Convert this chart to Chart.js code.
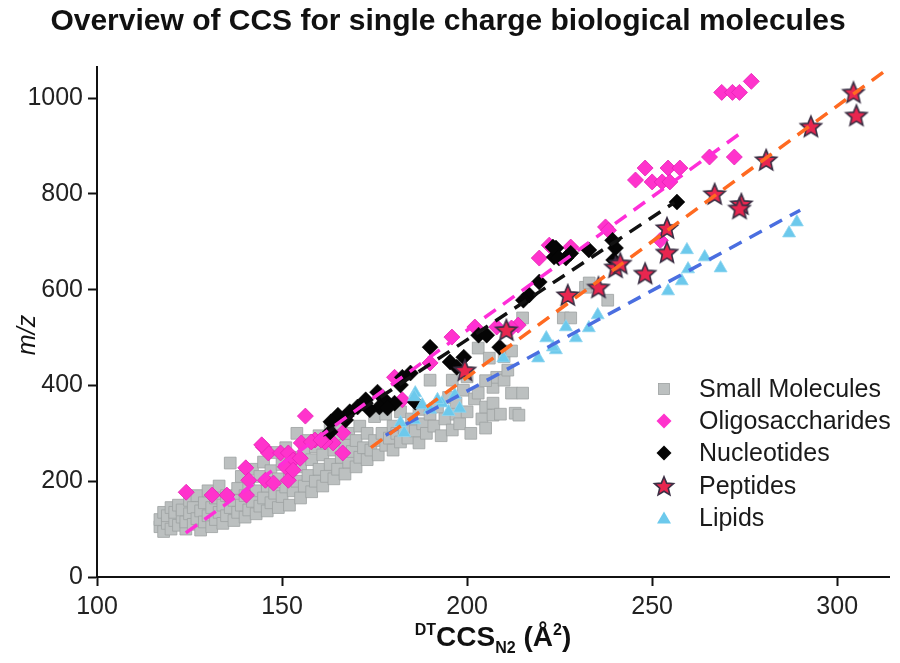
<!DOCTYPE html>
<html><head><meta charset="utf-8">
<script src="https://cdn.jsdelivr.net/npm/chart.js@4.4.0/dist/chart.umd.min.js"></script>
<style>html,body{margin:0;padding:0;background:#fff}#wrap{width:900px;height:663px;position:relative}</style>
</head><body><div id="wrap"><canvas id="c" width="900" height="663"></canvas></div>
<script>
// ---------- data (x = DTCCS_N2 in Å², y = m/z) ----------
const seriesNames = ['Small Molecules','Oligosaccharides','Nucleotides','Peptides','Lipids'];
const xTicks = [100,150,200,250,300];
const yTicks = [0,200,400,600,800,1000];

const smallMolecules = [[117,105],[117,120],[118,135],[118,95],[119,112],[119,128],[120,145],[120,100],[121,118],[121,135],[122,108],[122,150],[123,125],[123,140],[124,100],[124,115],[125,132],[125,160],[126,110],[126,145],[127,122],[127,170],[128,98],[128,138],[129,115],[129,155],[130,128],[130,180],[131,105],[131,145],[132,120],[132,165],[133,135],[133,190],[134,112],[134,150],[135,128],[135,170],[136,145],[136,238],[137,118],[137,160],[138,135],[138,185],[139,150],[139,210],[140,125],[140,170],[141,140],[141,195],[142,158],[142,225],[143,132],[143,180],[144,148],[144,210],[145,165],[145,240],[146,138],[146,190],[147,155],[147,222],[148,175],[148,260],[149,145],[149,205],[150,168],[150,235],[151,188],[151,270],[152,150],[152,215],[153,180],[153,250],[154,200],[154,300],[155,165],[155,230],[156,190],[156,265],[157,212],[157,285],[158,178],[158,245],[159,200],[159,272],[160,225],[160,295],[161,190],[161,255],[162,210],[162,280],[163,235],[163,310],[164,205],[164,265],[165,225],[165,295],[166,250],[166,320],[167,215],[167,275],[168,240],[168,300],[169,262],[170,230],[170,285],[171,250],[171,315],[172,270],[173,245],[173,300],[174,265],[175,285],[175,335],[176,255],[177,300],[178,275],[178,340],[179,290],[180,265],[180,315],[181,300],[182,282],[182,345],[183,310],[184,290],[185,330],[186,305],[187,280],[187,350],[188,320],[189,300],[190,340],[190,411],[191,315],[192,355],[193,295],[194,330],[195,375],[196,307],[196,411],[197,363],[197,340],[198,320],[199,390],[200,345],[200,418],[201,300],[202,372],[203,384],[203,478],[204,330],[205,311],[205,355],[206,457],[207,338],[207,396],[207,363],[208,417],[209,340],[210,411],[211,432],[212,384],[213,342],[214,338],[215,384],[198,440],[205,410],[210,460],[212,472],[215,541],[226,541],[228,541],[232,605],[233,614],[238,578]];

const oligosaccharides = [[276.8,1035],[268.8,1012],[271.7,1012],[273.6,1012],[265.5,877],[272.2,877],[248.1,854],[254.3,854],[257.5,854],[245.5,829],[250,825],[252.7,825],[254.8,825],[237.4,731],[238.2,724],[252.2,703],[228,689],[222.2,693],[219.5,666],[195.9,501],[202.1,522],[208,522],[213.8,526],[212,520],[182.5,370],[190,447],[180.4,417],[156.3,336],[167,334],[166.4,301],[163.8,280],[155.2,280],[158.9,286],[161.6,282],[166.4,259],[145,271],[146.3,259],[149.6,259],[151.7,259],[153,244],[150.9,230],[144.5,276],[157.9,282],[160.5,286],[154.9,248],[140.2,228],[141,202],[145.5,202],[147.7,196],[151.7,202],[140.4,171],[135.1,171],[131.1,171],[124.1,177],[153,223]];

const nucleotides = [[256.7,783],[232.9,683],[240.1,687],[239.3,703],[239.6,662],[224,687],[223.5,668],[226.7,666],[223.2,689],[224.8,666],[228,676],[219.5,616],[216.8,589],[215.2,578],[203.1,505],[205.3,505],[190,480],[195.4,449],[199.1,459],[197.2,438],[184.7,426],[182.5,417],[186,365],[208.8,480],[182,401],[175.8,386],[172.6,370],[170.4,355],[168.3,345],[180.4,363],[177.7,370],[176.3,355],[165.1,338],[163.2,324],[163,303],[167.2,328],[173.7,349],[178.5,353]];

const peptides = [[304.4,1012],[305.2,964],[292.9,941],[280.8,871],[266.9,800],[274.1,779],[273.6,770],[254,729],[254,678],[240.1,647],[241.4,655],[248.1,634],[235.5,605],[227.2,589],[210.6,516],[199.4,432]];

const lipids = [[289.1,741],[287,718],[259.4,683],[264.2,668],[268.5,645],[259.7,643],[258,618],[254.3,597],[226.7,522],[229.4,499],[232.9,520],[235.3,547],[224,474],[221.4,499],[223.2,480],[219.2,457],[209.8,457],[196.7,380],[193.2,363],[186,384],[187.9,359],[185.7,328],[183,301],[182,322],[185.7,376],[190,350],[195,345],[192,370],[198,352]];

// dashed linear fits (end points)
const oligoFitX = [124, 275], oligoFitY = [92, 933];
const nucFitX = [161, 256], nucFitY = [296, 782];
const pepFitX = [174, 314], pepFitY = [270, 1063];
const lipFitX = [178, 290], lipFitY = [296, 766];

// ---------- rendering ----------
const FONT = '"Liberation Sans", Arial, Helvetica, sans-serif';
const toPts = a => a.map(p => ({x: p[0], y: p[1]}));
const fit = (xs, ys) => xs.map((x, i) => ({x, y: ys[i]}));

function makeStar(r, fill, stroke) {
  const s = Math.ceil(r * 2 + 4);
  const c = document.createElement('canvas'); c.width = s; c.height = s;
  const g = c.getContext('2d'); const cx = s / 2, cy = s / 2 + r * 0.08;
  g.beginPath();
  for (let i = 0; i < 10; i++) {
    const a = -Math.PI / 2 + i * Math.PI / 5; const rr = i % 2 ? r * 0.45 : r;
    g.lineTo(cx + rr * Math.cos(a), cy + rr * Math.sin(a));
  }
  g.closePath(); g.fillStyle = fill; g.fill();
  g.lineWidth = 1.6; g.lineJoin = 'miter'; g.strokeStyle = stroke; g.stroke();
  return c;
}
const starImg = makeStar(11, '#e8264f', '#3b2f44');
const starLegend = makeStar(10, '#e8264f', '#3b2f44');

const C = {
  gray: '#bcc0c0', grayB: '#9da1a1', pink: '#ff33cc', pinkB: '#e61fb5',
  black: '#050505', lip: '#6cc9ec', lipB: '#8fd6f0',
  pinkLine: '#ff2ed8', blackLine: '#111111', orangeLine: '#ff6a21', blueLine: '#4a6ee0'
};

const lineDs = (label, data, color) => ({
  type: 'line', label, data, borderColor: color, borderWidth: 3.5, borderDash: [14, 9],
  pointRadius: 0, fill: false, order: 0, showLine: true
});

const datasets = [
  {label: seriesNames[0], data: toPts(smallMolecules), pointStyle: 'rect', pointRadius: 8.3,
   backgroundColor: C.gray, borderColor: C.grayB, borderWidth: 0.8, order: 6},
  {label: seriesNames[1], data: toPts(oligosaccharides), pointStyle: 'rectRot', pointRadius: 8,
   backgroundColor: C.pink, borderColor: C.pinkB, borderWidth: 0.8, order: 5},
  {label: seriesNames[2], data: toPts(nucleotides), pointStyle: 'rectRot', pointRadius: 8,
   backgroundColor: C.black, borderColor: C.black, borderWidth: 0.5, order: 4},
  {label: seriesNames[4], data: toPts(lipids), pointStyle: 'triangle', pointRadius: 7.5,
   backgroundColor: C.lip, borderColor: C.lipB, borderWidth: 0.8, order: 3},
  {label: seriesNames[3], data: toPts(peptides), pointStyle: starImg, pointRadius: 10,
   backgroundColor: '#e8264f', borderColor: '#3b2f44', order: 2},
  lineDs('fit oligo', fit(oligoFitX, oligoFitY), C.pinkLine),
  lineDs('fit nuc', fit(nucFitX, nucFitY), C.blackLine),
  lineDs('fit pep', fit(pepFitX, pepFitY), C.orangeLine),
  lineDs('fit lip', fit(lipFitX, lipFitY), C.blueLine)
];

function drawMarker(ctx, kind, x, y) {
  ctx.save();
  if (kind === 0) { ctx.fillStyle = C.gray; ctx.strokeStyle = C.grayB; ctx.lineWidth = 0.8;
    ctx.fillRect(x - 5.5, y - 5.5, 11, 11); ctx.strokeRect(x - 5.5, y - 5.5, 11, 11); }
  else if (kind === 1 || kind === 2) { ctx.fillStyle = kind === 1 ? C.pink : C.black;
    ctx.beginPath(); ctx.moveTo(x, y - 7.5); ctx.lineTo(x + 7.5, y); ctx.lineTo(x, y + 7.5); ctx.lineTo(x - 7.5, y); ctx.closePath(); ctx.fill(); }
  else if (kind === 3) { ctx.drawImage(starLegend, x - starLegend.width / 2, y - starLegend.height / 2); }
  else { ctx.fillStyle = C.lip; ctx.beginPath(); ctx.moveTo(x, y - 6.5); ctx.lineTo(x + 7, y + 5.5); ctx.lineTo(x - 7, y + 5.5); ctx.closePath(); ctx.fill(); }
  ctx.restore();
}

const decor = {
  id: 'decor',
  afterDraw(chart) {
    const ctx = chart.ctx; const a = chart.chartArea;
    ctx.save();
    // title
    ctx.fillStyle = '#111'; ctx.textAlign = 'center'; ctx.textBaseline = 'middle';
    ctx.font = 'bold 30px ' + FONT;
    ctx.fillText('Overview of CCS for single charge biological molecules', 448, 22);
    // y title
    ctx.save(); ctx.translate(28, 335); ctx.rotate(-Math.PI / 2);
    ctx.font = 'italic 25px ' + FONT; ctx.fillText('m/z', 0, 0); ctx.restore();
    // x title with super/subscripts
    const parts = [
      {t: 'DT', f: 'bold 16px ' + FONT, dy: -11},
      {t: 'CCS', f: 'bold 28px ' + FONT, dy: 0},
      {t: 'N2', f: 'bold 16px ' + FONT, dy: 7},
      {t: ' (Å', f: 'bold 28px ' + FONT, dy: 0},
      {t: '2', f: 'bold 16px ' + FONT, dy: -11},
      {t: ')', f: 'bold 28px ' + FONT, dy: 0}
    ];
    let w = 0; parts.forEach(p => { ctx.font = p.f; p.w = ctx.measureText(p.t).width; w += p.w; });
    let x = (a.left + a.right) / 2 - w / 2; const base = 646;
    ctx.textAlign = 'left'; ctx.textBaseline = 'alphabetic';
    parts.forEach(p => { ctx.font = p.f; ctx.fillText(p.t, x, base + p.dy); x += p.w; });
    // legend
    const rows = [389, 421, 453, 486, 518];
    ctx.font = '25px ' + FONT; ctx.textBaseline = 'middle'; ctx.fillStyle = '#1a1a1a';
    seriesNames.forEach((n, i) => { drawMarker(ctx, i, 664, rows[i]); ctx.fillText(n, 699, rows[i] + 1); });
    ctx.restore();
  }
};

const axisCommon = {
  type: 'linear',
  grid: {display: true, drawOnChartArea: false, drawTicks: true, tickLength: 9, color: '#111', tickWidth: 2},
  border: {display: true, color: '#111', width: 2},
};

new Chart(document.getElementById('c'), {
  type: 'scatter',
  data: {datasets},
  options: {
    responsive: false, animation: false, events: [],
    layout: {padding: {top: 67, right: 5, left: 0, bottom: 0}},
    plugins: {legend: {display: false}, tooltip: {enabled: false}, title: {display: false}},
    scales: {
      x: Object.assign({}, axisCommon, {
        min: 100, max: 314,
        afterBuildTicks: s => { s.ticks = xTicks.map(v => ({value: v})); },
        ticks: {font: {size: 25, family: FONT}, color: '#222', padding: 6, includeBounds: false,
                callback: v => String(v)},
        afterFit: s => { s.height = 86; }
      }),
      y: Object.assign({}, axisCommon, {
        min: 0, max: 1065,
        afterBuildTicks: s => { s.ticks = yTicks.map(v => ({value: v})); },
        ticks: {font: {size: 25, family: FONT}, color: '#222', padding: 5, includeBounds: false,
                callback: v => String(v)},
        afterFit: s => { s.width = 97; }
      })
    }
  },
  plugins: [decor]
});
</script>
</body></html>
